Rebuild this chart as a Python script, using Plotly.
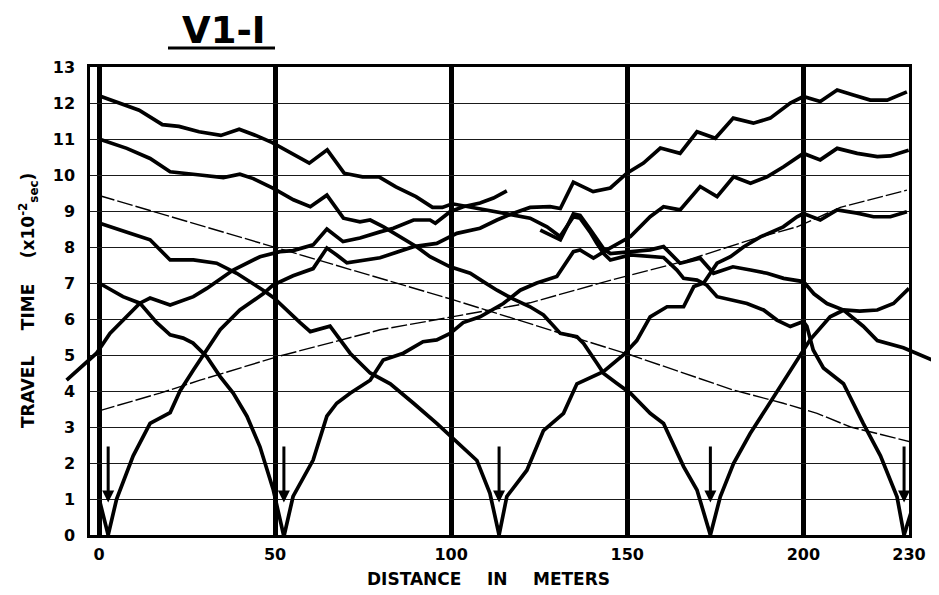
import plotly.graph_objects as go

# ---------------- data ----------------
shot_x = [2.6, 52.5, 113.6, 173.6, 228.6]
arrow_top = 2.5
arrow_tip = 0.9

x_tick_vals = [0, 50, 100, 150, 200, 230]
x_tick_text = ["0", "50", "100", "150", "200", "230"]
y_tick_vals = list(range(0, 14))

s1_left_x = [2.6, 0.3]
s1_left_y = [0.0, 0.9]

s1_right_x = [2.6, 5.0, 9.7, 14.5, 20.2, 23.0, 26.8, 30.6, 34.4, 40.0,
              46.6, 49.4, 55.1, 60.8, 64.7, 67.5, 70.4, 79.8, 89.3, 95.9,
              101.6, 108.2, 113.0, 117.7, 122.4, 128.1, 131.0, 134.7, 140.3, 145.2,
              149.9, 154.6, 159.4, 165.0, 169.8, 175.0, 180.1, 185.8, 190.6, 196.3,
              200.0, 204.8, 209.6, 214.2, 219.0, 223.8, 229.4]
s1_right_y = [0.0, 1.0, 2.2, 3.1, 3.4, 4.0, 4.58, 5.14, 5.7, 6.25,
              6.7, 6.94, 7.2, 7.4, 7.97, 7.78, 7.56, 7.7, 8.01, 8.1,
              8.38, 8.52, 8.75, 8.94, 9.1, 9.12, 9.07, 9.8, 9.54, 9.64,
              10.05, 10.33, 10.75, 10.6, 11.2, 11.02, 11.58, 11.44, 11.58, 12.0,
              12.18, 12.04, 12.36, 12.22, 12.08, 12.08, 12.31]

s2_left_x = [52.4, 49.5, 45.7, 42.0, 38.1, 34.4, 30.6, 26.7, 23.9, 20.2, 16.4, 11.6, 6.8, 0.0]
s2_left_y = [0.0, 1.25, 2.45, 3.3, 3.94, 4.4, 4.95, 5.33, 5.47, 5.56, 5.9, 6.44, 6.62, 7.0]

s2_right_x = [52.6, 55.1, 60.8, 64.7, 67.5, 71.3, 77.0, 80.7, 86.4, 92.0,
              95.9, 99.7, 103.4, 108.2, 114.8, 119.6, 124.3, 130.0, 134.7, 136.6,
              140.4, 144.2, 150.9, 156.5, 160.3, 165.0, 170.7, 175.5, 180.2, 185.0,
              189.7, 194.4, 200.0, 204.8, 209.6, 215.3, 221.0, 224.7, 229.9]
s2_right_y = [0.0, 1.07, 2.08, 3.3, 3.66, 3.94, 4.3, 4.86, 5.05, 5.37,
              5.42, 5.6, 5.9, 6.06, 6.43, 6.8, 7.0, 7.18, 7.87, 7.92,
              7.69, 7.92, 8.29, 8.84, 9.12, 9.03, 9.68, 9.4, 9.95, 9.77,
              9.95, 10.23, 10.6, 10.42, 10.74, 10.6, 10.51, 10.53, 10.69]

s3_left_x = [113.6, 111.0, 107.3, 101.6, 95.9, 89.3, 82.7, 77.0, 71.3, 65.6,
             60.0, 57.1, 53.3, 49.5, 46.6, 39.1, 33.4, 26.8, 20.2, 16.4,
             14.5, 8.8, 0.0]
s3_left_y = [0.0, 1.16, 2.07, 2.6, 3.1, 3.66, 4.2, 4.5, 5.05, 5.8,
             5.65, 5.9, 6.25, 6.6, 6.8, 7.27, 7.55, 7.64, 7.64, 8.0,
             8.2, 8.38, 8.67]

s3_right_x = [113.6, 115.8, 121.5, 126.2, 131.9, 135.7, 143.2, 148.9, 152.7, 156.5,
              161.3, 166.0, 168.9, 171.7, 175.5, 179.3, 183.0, 187.8, 194.3, 198.2,
              200.0, 204.8, 209.6, 215.3, 219.9, 224.7, 229.4]
s3_right_y = [0.0, 1.07, 1.8, 2.9, 3.38, 4.2, 4.54, 5.0, 5.4, 6.06,
              6.34, 6.34, 6.9, 7.0, 7.55, 7.73, 8.0, 8.28, 8.56, 8.84,
              8.93, 8.75, 9.03, 8.94, 8.84, 8.84, 8.98]

s4_left_x = [173.6, 169.8, 166.0, 162.2, 160.3, 156.5, 150.9, 147.1, 143.3, 141.4,
             137.6, 135.7, 131.0, 126.2, 122.4, 117.7, 113.0, 109.1, 105.4, 99.7,
             94.0, 90.3, 85.5, 80.8, 77.0, 74.1, 69.4, 64.7, 60.0, 55.2,
             49.5, 43.8, 40.0, 35.3, 28.7, 24.0, 20.2, 14.5, 7.9, 0.0]
s4_left_y = [0.0, 1.25, 1.9, 2.73, 3.1, 3.38, 3.94, 4.21, 4.49, 4.77,
             5.32, 5.51, 5.6, 6.11, 6.34, 6.55, 6.8, 7.04, 7.27, 7.45,
             7.73, 8.0, 8.29, 8.56, 8.75, 8.7, 8.8, 9.44, 9.12, 9.31,
             9.63, 9.9, 10.02, 9.93, 10.0, 10.05, 10.09, 10.46, 10.74, 11.0]

s4_right_x = [173.6, 176.4, 180.2, 184.9, 191.6, 197.2, 201.9, 207.6, 211.5, 216.0, 221.0, 225.6, 230.0]
s4_right_y = [0.0, 1.06, 1.99, 2.82, 3.84, 4.68, 5.42, 6.06, 6.25, 6.22, 6.25, 6.43, 6.85]

s5_left_x = [228.6, 226.6, 221.9, 217.0, 211.4, 205.7, 202.8, 201.0, 200.0, 196.3,
             192.5, 188.7, 184.0, 179.3, 175.5, 172.6, 169.8, 166.0, 164.1, 160.3,
             150.9, 145.2, 143.3, 141.4, 139.4, 136.6, 134.7, 130.9, 127.2, 122.4,
             117.0, 110.0, 105.0, 100.3, 97.5, 94.7, 90.0, 84.3, 79.5, 74.8,
             69.6, 64.8, 59.7, 49.2, 44.5, 39.8, 34.6, 28.4, 22.7, 18.0,
             11.4, 0.0]
s5_left_y = [0.0, 1.06, 2.2, 3.1, 4.2, 4.64, 5.14, 5.8, 5.93, 5.79,
             5.97, 6.25, 6.43, 6.53, 6.62, 6.94, 7.08, 7.13, 7.36, 7.71,
             7.78, 7.64, 7.82, 8.1, 8.42, 8.8, 8.84, 8.29, 8.56, 8.8,
             8.9, 9.02, 9.1, 9.2, 9.1, 9.1, 9.4, 9.67, 9.95, 9.95,
             10.05, 10.7, 10.33, 10.9, 11.1, 11.27, 11.1, 11.2, 11.35, 11.4,
             11.8, 12.2]

s5_right_x = [228.6, 230.5]
s5_right_y = [0.0, 0.6]

# off-end shots (drawn past the frame)
oe_left_x = [-9.2, -0.7, 3.1, 6.8, 11.6, 14.5, 20.2, 26.8, 30.6, 38.1,
             45.7, 51.4, 55.1, 60.8, 64.7, 69.3, 74.1, 79.8, 83.6, 89.3,
             94.0, 95.5, 99.7, 103.4, 108.2, 112.0, 115.8]
oe_left_y = [4.3, 5.05, 5.6, 5.97, 6.44, 6.58, 6.39, 6.62, 6.85, 7.36,
             7.73, 7.87, 7.9, 8.06, 8.5, 8.15, 8.25, 8.42, 8.52, 8.75,
             8.75, 8.66, 8.98, 9.12, 9.22, 9.36, 9.56]

oe_right_x = [238.0, 230.4, 228.4, 221.0, 217.0, 211.4, 206.7, 203.0, 200.0, 194.4,
              189.7, 185.0, 180.0, 174.5, 170.7, 165.0, 160.3, 156.5, 150.9, 145.2,
              143.3, 141.4, 139.4, 136.6, 134.7, 131.0, 125.3]
oe_right_y = [4.8, 5.1, 5.2, 5.4, 5.8, 6.25, 6.43, 6.7, 7.04, 7.13,
              7.27, 7.36, 7.45, 7.27, 7.69, 7.55, 8.01, 7.92, 7.87, 7.82,
              7.95, 8.2, 8.5, 8.88, 8.92, 8.2, 8.47]

# thin lines
tl1_x = [0.0, 49.5, 100.0, 151.0, 166.0, 180.0, 194.3, 203.9, 213.4, 230.4]
tl1_y = [9.43, 8.0, 6.55, 5.0, 4.5, 4.03, 3.66, 3.38, 3.0, 2.59]

tl2_x = [0.0, 17.3, 28.7, 50.5, 79.8, 100.0, 122.4, 146.1,
         166.0, 185.0, 198.2, 210.5, 229.4]
tl2_y = [3.45, 3.94, 4.3, 4.95, 5.7, 6.05, 6.45, 7.1,
         7.6, 8.2, 8.56, 9.1, 9.58]

thick_curves = [(s1_left_x, s1_left_y), (s1_right_x, s1_right_y),
                (s2_left_x, s2_left_y), (s2_right_x, s2_right_y),
                (s3_left_x, s3_left_y), (s3_right_x, s3_right_y),
                (s4_left_x, s4_left_y), (s4_right_x, s4_right_y),
                (s5_left_x, s5_left_y), (s5_right_x, s5_right_y)]
offend_curves = [(oe_left_x, oe_left_y), (oe_right_x, oe_right_y)]
thin_curves = [(tl1_x, tl1_y), (tl2_x, tl2_y)]

# ---------------- layout geometry ----------------
# the page body has an 8px margin, so the figure is drawn 8px in and down
OFF = 8
W, H = 939 - OFF, 595 - OFF


def px(v):
    return v - OFF


L, R, T, B = px(90), px(909), px(67), px(535)
x_min, x_max = -2.56, 230.0
y_min, y_max = 0, 13
px_per_m = (R - L) / (x_max - x_min)
x2_range = [x_min - L / px_per_m, x_max + (W - R) / px_per_m]

FONT = "DejaVu Sans"
thick = dict(color="black", width=3.7)
thin = dict(color="black", width=1.4, dash="16px,3px")

fig = go.Figure()
for xs, ys in thin_curves:
    fig.add_trace(go.Scatter(x=xs, y=ys, mode="lines", line=thin,
                             showlegend=False, hoverinfo="skip"))
for xs, ys in thick_curves:
    fig.add_trace(go.Scatter(x=xs, y=ys, mode="lines", line=thick,
                             showlegend=False, hoverinfo="skip"))
for xs, ys in offend_curves:
    fig.add_trace(go.Scatter(x=xs, y=ys, mode="lines", line=thick,
                             xaxis="x2", yaxis="y2",
                             showlegend=False, hoverinfo="skip"))

tickfont = dict(family=FONT, size=16, color="black", weight="bold")

fig.update_layout(
    width=W, height=H,
    margin=dict(l=0, r=0, t=0, b=0),
    paper_bgcolor="white",
    plot_bgcolor="rgba(0,0,0,0)",
    showlegend=False,
    xaxis=dict(domain=[L / W, R / W], range=[x_min, x_max], anchor="y",
               tickvals=x_tick_vals, ticktext=x_tick_text,
               showgrid=True, gridcolor="black", gridwidth=4.5,
               zeroline=False, showline=True, linecolor="black",
               linewidth=2.5, mirror=True,
               ticks="outside", ticklen=3, tickcolor="rgba(0,0,0,0)",
               tickfont=tickfont, automargin=False),
    yaxis=dict(domain=[1 - B / H, 1 - T / H], range=[y_min, y_max], anchor="x",
               tickvals=y_tick_vals,
               showgrid=True, gridcolor="#1a1a1a", gridwidth=1.4,
               zeroline=False, showline=True, linecolor="black",
               linewidth=2.5, mirror=True,
               ticks="outside", ticklen=9, tickcolor="rgba(0,0,0,0)",
               tickfont=tickfont, automargin=False),
    xaxis2=dict(domain=[0, 1], range=x2_range, anchor="y2", visible=False),
    yaxis2=dict(domain=[1 - B / H, 1 - T / H], range=[y_min, y_max],
                anchor="x2", visible=False),
)

# shot-point arrows
for sx in shot_x:
    fig.add_annotation(x=sx, y=arrow_tip, ax=sx, ay=arrow_top,
                       xref="x", yref="y", axref="x", ayref="y",
                       text="", showarrow=True, arrowhead=2, arrowsize=0.8,
                       arrowwidth=3, arrowcolor="black")

# title and its underline
fig.add_annotation(text="V1-I", xref="paper", yref="paper",
                   x=px(224) / W, y=1 - px(30) / H, showarrow=False,
                   xanchor="center", yanchor="middle",
                   font=dict(family=FONT, size=37, color="black", weight="bold"))
fig.add_shape(type="line", xref="paper", yref="paper",
              x0=px(168) / W, x1=px(275) / W, y0=1 - px(48) / H, y1=1 - px(48) / H,
              line=dict(color="black", width=3))

# axis titles
fig.add_annotation(text="TRAVEL\u2003\u2002TIME\u2003\u2002(x10<sup>-2</sup><sub>sec</sub>)",
                   xref="paper", yref="paper", x=px(28) / W, y=1 - px(301) / H,
                   textangle=-90, showarrow=False,
                   xanchor="center", yanchor="middle",
                   font=dict(family=FONT, size=17, color="black", weight="bold"))
fig.add_annotation(text="DISTANCE\u2003\u2002IN\u2003\u2002METERS",
                   xref="paper", yref="paper", x=px(488) / W, y=1 - px(579) / H,
                   showarrow=False, xanchor="center", yanchor="middle",
                   font=dict(family=FONT, size=17, color="black", weight="bold"))

fig.write_html("out.html")
